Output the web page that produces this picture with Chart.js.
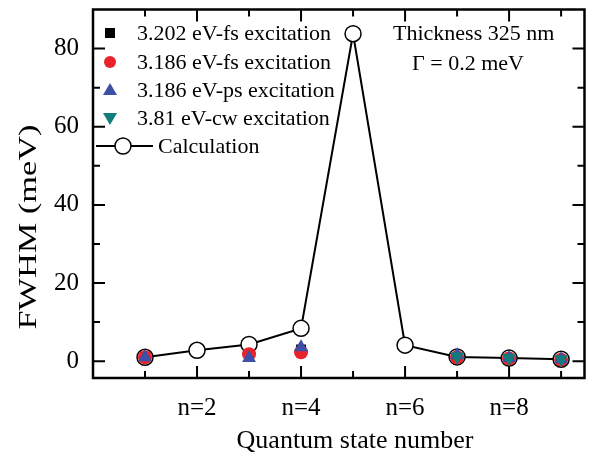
<!DOCTYPE html>
<html>
<head>
<meta charset="utf-8">
<script src="https://cdn.jsdelivr.net/npm/chart.js@4.4.1/dist/chart.umd.min.js"></script>
<style>
  html, body { margin: 0; padding: 0; background: #fff; }
  #wrap { width: 594px; height: 457px; }
</style>
</head>
<body>
<div id="wrap"><canvas id="fwhmChart" width="594" height="457"></canvas></div>
<script>
// quantum state numbers
var states = [1, 2, 3, 4, 5, 6, 7, 8, 9];

// calculated FWHM (meV), open circles + line
var calc = [1.0, 2.8, 4.3, 8.4, 83.8, 4.1, 1.1, 0.8, 0.5];

// measured FWHM (meV), [n, value]
var fs3202 = [[1, 1.0], [3, 1.3], [4, 3.0]];
var fs3186 = [[1, 1.0], [3, 1.8], [4, 2.3], [7, 1.0], [8, 0.7], [9, 0.4]];
var ps3186 = [[1, 1.0], [3, 0.8], [4, 3.6], [7, 1.5], [8, 0.8], [9, 0.5]];
var cw381 = [[7, 1.2], [8, 0.8], [9, 0.5]];

// tick labels
var xTickValues = [2, 4, 6, 8];
var xTickLabels = ['n=2', 'n=4', 'n=6', 'n=8'];
var yTickValues = [0, 20, 40, 60, 80];

var serif = '"Liberation Serif", "Times New Roman", serif';

function pts(arr) {
    var out = [];
    for (var i in arr) out.push({x: arr[i][0], y: arr[i][1]});
    return out;
}

var calcPts = [];
for (var i in states) calcPts.push({x: states[i], y: calc[i]});

// higher order is drawn first (underneath)
var chartdata = {
    datasets: [
        {
            label: '3.202 eV-fs excitation',
            data: pts(fs3202),
            showLine: false,
            pointStyle: 'rect',
            pointRadius: 7,
            backgroundColor: '#000000',
            borderColor: '#000000',
            borderWidth: 0,
            order: 4
        },
        {
            label: '3.186 eV-fs excitation',
            data: pts(fs3186),
            showLine: false,
            pointStyle: 'circle',
            pointRadius: 7,
            backgroundColor: '#e8232b',
            borderColor: '#e8232b',
            borderWidth: 0,
            order: 3
        },
        {
            label: '3.186 eV-ps excitation',
            data: pts(ps3186),
            showLine: false,
            pointStyle: 'triangle',
            pointRadius: 8,
            backgroundColor: '#3d4fa6',
            borderColor: '#3d4fa6',
            borderWidth: 0,
            order: 2
        },
        {
            label: '3.81 eV-cw excitation',
            data: pts(cw381),
            showLine: false,
            pointStyle: 'triangle',
            rotation: 180,
            pointRadius: 8,
            backgroundColor: '#127c7c',
            borderColor: '#127c7c',
            borderWidth: 0,
            order: 1
        },
        {
            label: 'Calculation',
            data: calcPts,
            showLine: true,
            borderColor: '#000000',
            borderWidth: 2,
            pointStyle: 'circle',
            pointRadius: 8,
            pointBackgroundColor: '#ffffff',
            pointBorderColor: '#000000',
            pointBorderWidth: 1.5,
            order: 5
        }
    ]
};

// frame, inward ticks, legend, notes and axis titles
var decor = {
    id: 'decor',
    beforeDatasetsDraw: function (chart) {
        var ctx = chart.ctx, a = chart.chartArea;
        var xs = chart.scales.x, ys = chart.scales.y;
        ctx.save();
        ctx.strokeStyle = '#000';
        ctx.lineWidth = 2.5;
        ctx.strokeRect(a.left, a.top, a.right - a.left, a.bottom - a.top);
        ctx.lineWidth = 2;
        ctx.beginPath();
        for (var n = 1; n <= 9; n++) {
            var len = (n % 2 == 0) ? 12 : 7;
            var px = xs.getPixelForValue(n);
            ctx.moveTo(px, a.bottom); ctx.lineTo(px, a.bottom - len);
            ctx.moveTo(px, a.top); ctx.lineTo(px, a.top + len);
        }
        for (var v = 0; v <= 80; v += 10) {
            var l2 = (v % 20 == 0) ? 12 : 7;
            var py = ys.getPixelForValue(v);
            ctx.moveTo(a.left, py); ctx.lineTo(a.left + l2, py);
            ctx.moveTo(a.right, py); ctx.lineTo(a.right - l2, py);
        }
        ctx.stroke();
        ctx.restore();
    },
    afterDraw: function (chart) {
        var ctx = chart.ctx;
        ctx.save();
        ctx.fillStyle = '#000';
        ctx.textBaseline = 'middle';
        ctx.font = '22px ' + serif;

        var rows = [33, 62, 90, 118];
        var ds = chart.data.datasets;
        // marker column
        ctx.fillStyle = ds[0].backgroundColor;
        ctx.fillRect(105, rows[0] - 5, 10, 10);
        ctx.fillStyle = ds[1].backgroundColor;
        ctx.beginPath(); ctx.arc(110, rows[1], 6, 0, Math.PI * 2); ctx.fill();
        ctx.fillStyle = ds[2].backgroundColor;
        ctx.beginPath(); ctx.moveTo(110, rows[2] - 7); ctx.lineTo(117, rows[2] + 5); ctx.lineTo(103, rows[2] + 5); ctx.closePath(); ctx.fill();
        ctx.fillStyle = ds[3].backgroundColor;
        ctx.beginPath(); ctx.moveTo(110, rows[3] + 7); ctx.lineTo(117, rows[3] - 5); ctx.lineTo(103, rows[3] - 5); ctx.closePath(); ctx.fill();

        ctx.fillStyle = '#000';
        for (var i = 0; i < 4; i++) ctx.fillText(ds[i].label, 137, rows[i] + 1);

        // calculation entry
        ctx.strokeStyle = '#000';
        ctx.lineWidth = 2;
        ctx.beginPath(); ctx.moveTo(96, 146); ctx.lineTo(153, 146); ctx.stroke();
        ctx.fillStyle = '#fff';
        ctx.lineWidth = 1.5;
        ctx.beginPath(); ctx.arc(123, 146, 8, 0, Math.PI * 2); ctx.fill(); ctx.stroke();
        ctx.fillStyle = '#000';
        ctx.fillText(ds[4].label, 158, 147);

        // notes
        ctx.fillText('Thickness 325 nm', 393, 34);
        ctx.fillText('\u0393 = 0.2 meV', 412, 64);

        // axis titles
        ctx.font = '26px ' + serif;
        ctx.textAlign = 'center';
        ctx.fillText('Quantum state number', 355, 441);
        ctx.translate(29, 227);
        ctx.rotate(-Math.PI / 2);
        ctx.scale(205 / ctx.measureText('FWHM (meV)').width, 1);
        ctx.fillText('FWHM (meV)', 0, 0);
        ctx.restore();
    }
};

var graphTarget = document.getElementById('fwhmChart');

var fwhmGraph = new Chart(graphTarget, {
    type: 'scatter',
    data: chartdata,
    plugins: [decor],
    options: {
        responsive: false,
        animation: false,
        layout: { padding: { top: 7, right: 4, left: 0, bottom: 0 } },
        plugins: {
            legend: { display: false },
            tooltip: { enabled: false }
        },
        scales: {
            x: {
                type: 'linear',
                min: 0,
                max: 9.45,
                grid: { display: false, drawTicks: false },
                border: { display: false },
                afterBuildTicks: function (scale) {
                    scale.ticks = xTickValues.map(function (v) { return {value: v}; });
                },
                afterFit: function (scale) {
                    scale.height = 79;
                    scale.paddingLeft = 0;
                    scale.paddingRight = 0;
                },
                ticks: {
                    padding: 15,
                    color: '#000',
                    font: { family: serif, size: 25 },
                    maxRotation: 0,
                    callback: function (value) {
                        var k = xTickValues.indexOf(value);
                        return k >= 0 ? xTickLabels[k] : '';
                    }
                }
            },
            y: {
                min: -4.3,
                max: 90,
                grid: { display: false, drawTicks: false },
                border: { display: false },
                afterBuildTicks: function (scale) {
                    scale.ticks = yTickValues.map(function (v) { return {value: v}; });
                },
                afterFit: function (scale) {
                    scale.width = 93;
                    scale.paddingTop = 0;
                    scale.paddingBottom = 0;
                },
                ticks: {
                    padding: 14,
                    color: '#000',
                    font: { family: serif, size: 25 }
                }
            }
        }
    }
});
</script>
</body>
</html>
